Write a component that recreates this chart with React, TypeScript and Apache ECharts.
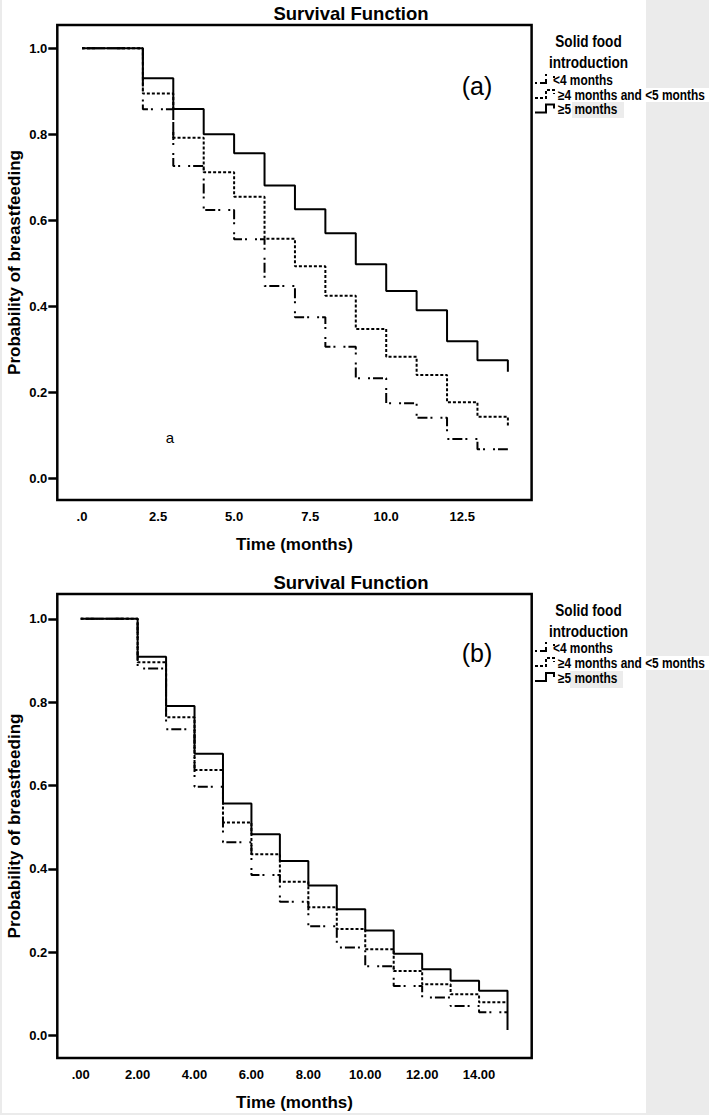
import React, { useEffect, useRef } from "react";
import * as echarts from "echarts";

// ---------- data ----------
const monthsA = [0, 2, 3, 4, 5, 6, 7, 8, 9, 10, 11, 12, 13, 14];
const survA_lt4 = [1, 0.858, 0.726, 0.624, 0.556, 0.4475, 0.375, 0.306, 0.233, 0.175, 0.141, 0.092, 0.068, 0.068];
const survA_4to5 = [1, 0.895, 0.792, 0.712, 0.655, 0.557, 0.493, 0.425, 0.3475, 0.283, 0.2406, 0.177, 0.1437, 0.122];
const survA_ge5 = [1, 0.93, 0.859, 0.8, 0.756, 0.681, 0.626, 0.57, 0.498, 0.436, 0.391, 0.319, 0.275, 0.248];

const monthsB = [0, 2, 3, 4, 5, 6, 7, 8, 9, 10, 11, 12, 13, 14, 15];
const survB_lt4 = [1, 0.881, 0.735, 0.597, 0.464, 0.385, 0.321, 0.262, 0.211, 0.166, 0.119, 0.091, 0.071, 0.056, 0.056];
const survB_4to5 = [1, 0.896, 0.764, 0.637, 0.511, 0.435, 0.369, 0.308, 0.2556, 0.207, 0.155, 0.123, 0.099, 0.08, 0.08];
const survB_ge5 = [1, 0.909, 0.791, 0.676, 0.557, 0.483, 0.419, 0.36, 0.303, 0.252, 0.196, 0.159, 0.1315, 0.1075, 0.013];

const xTicksA = [0, 2.5, 5, 7.5, 10, 12.5];
const xTicksB = [0, 2, 4, 6, 8, 10, 12, 14];
const yTicks = [0, 0.2, 0.4, 0.6, 0.8, 1.0];

const groupNames = ["<4 months", "\u22654 months and <5 months", "\u22655 months"];
const chartTitle = "Survival Function";
const xName = "Time (months)";
const yName = "Probability of breastfeeding";
const legendTitle = ["Solid food", "introduction"];

// ---------- styles ----------
const FONT = "'Liberation Sans', Arial, sans-serif";
const DASHDOT = [2, 3, 10, 3, 2, 8];
const DOTTED = [3, 2];
const styles = [DASHDOT, DOTTED, "solid"];

const toPairs = (xs: number[], ys: number[]) => xs.map((x, i) => [x, ys[i]]);

function makeAxesX(gridIndex: number, min: number, max: number, ticks: number[], fmt: (v: number) => string) {
  return {
    type: "value",
    gridIndex,
    min,
    max,
    axisLine: { show: false, onZero: false },
    axisTick: { show: false },
    splitLine: { show: false },
    axisLabel: {
      customValues: ticks,
      formatter: fmt,
      margin: 10,
      fontSize: 13,
      fontWeight: "bold",
      fontFamily: FONT,
      color: "#000",
    },
    name: xName,
    nameLocation: "middle",
    nameGap: 36,
    nameMoveOverlap: false,
    nameTextStyle: { fontSize: 17, fontWeight: "bold", fontFamily: FONT, color: "#000" },
  };
}

function makeAxesY(gridIndex: number, min: number, max: number) {
  return {
    type: "value",
    gridIndex,
    min,
    max,
    axisLine: { show: false, onZero: false },
    axisTick: { show: true, length: 9, lineStyle: { width: 2.5, color: "#000" }, customValues: yTicks },
    splitLine: { show: false },
    axisLabel: {
      customValues: yTicks,
      formatter: (v: number) => v.toFixed(1),
      margin: 10,
      fontSize: 13,
      fontWeight: "bold",
      fontFamily: FONT,
      color: "#000",
    },
    name: yName,
    nameLocation: "middle",
    nameGap: 34,
    nameMoveOverlap: false,
    nameTextStyle: { fontSize: 17, fontWeight: "bold", fontFamily: FONT, color: "#000" },
  };
}

function lineSeries(idx: number, xs: number[], ys: number[], k: number, name: string) {
  return {
    type: "line",
    name,
    xAxisIndex: idx,
    yAxisIndex: idx,
    step: "end",
    data: toPairs(xs, ys),
    symbol: "none",
    showSymbol: false,
    silent: true,
    z: 2 + k,
    lineStyle: { color: "#000", width: 2, type: styles[k], cap: "butt" },
  };
}

function text(x: number, y: number, str: string, opts: any = {}) {
  const align = opts.align || "left";
  return {
    type: "text",
    x,
    y,
    scaleX: opts.scaleX || 1,
    silent: true,
    style: {
      text: str,
      fill: "#000",
      font: opts.font || `bold 14px ${FONT}`,
      textAlign: align,
      align,
      textVerticalAlign: "middle",
      verticalAlign: "middle",
    },
  };
}

function legendBlock(top: number, rowsY: number[], tagY: number, tag: string) {
  const els: any[] = [];
  els.push(text(351, top - 11.5, chartTitle, { font: `bold 18.5px ${FONT}`, align: "center" }));
  els.push(text(588.5, top + 16.5, legendTitle[0], { font: `bold 16px ${FONT}`, align: "center", scaleX: 0.85 }));
  els.push(text(588.5, top + 38, legendTitle[1], { font: `bold 16px ${FONT}`, align: "center", scaleX: 0.85 }));
  els.push(text(477, tagY, tag, { font: `25px ${FONT}`, align: "center" }));
  rowsY.forEach((y, k) => {
    els.push({
      type: "polyline",
      silent: true,
      shape: { points: [[535, y + 3], [546, y + 3], [546, y - 5], [554, y - 5], [554, y - 1]] },
      style: { stroke: "#000", lineWidth: 2, fill: null, lineDash: styles[k] === "solid" ? null : styles[k] },
    });
    els.push(text(k === 0 ? 553 : 558, y, groupNames[k], { font: `bold 14px ${FONT}`, scaleX: 0.85 }));
  });
  return els;
}

export default function App() {
  const ref = useRef<HTMLDivElement>(null);
  useEffect(() => {
    if (!ref.current) return;
    const chart = echarts.init(ref.current, null, { renderer: "svg" });
    const option: any = {
      animation: false,
      grid: [
        { left: 57.3, top: 25, width: 474.3, height: 475, show: true, borderColor: "#000", borderWidth: 2.5, backgroundColor: "transparent", outerBoundsMode: "none" },
        { left: 57.3, top: 594, width: 474.4, height: 464, show: true, borderColor: "#000", borderWidth: 2.5, backgroundColor: "transparent", outerBoundsMode: "none" },
      ],
      xAxis: [
        makeAxesX(0, -0.813, 14.78, xTicksA, (v: number) => (v === 0 ? ".0" : v.toFixed(1))),
        makeAxesX(1, -0.823, 15.85, xTicksB, (v: number) => (v === 0 ? ".00" : v.toFixed(2))),
      ],
      yAxis: [makeAxesY(0, -0.05, 1.054), makeAxesY(1, -0.054, 1.0595)],
      series: [
        lineSeries(0, monthsA, survA_lt4, 0, groupNames[0]),
        lineSeries(0, monthsA, survA_4to5, 1, groupNames[1]),
        lineSeries(0, monthsA, survA_ge5, 2, groupNames[2]),
        lineSeries(1, monthsB, survB_lt4, 0, groupNames[0]),
        lineSeries(1, monthsB, survB_4to5, 1, groupNames[1]),
        lineSeries(1, monthsB, survB_ge5, 2, groupNames[2]),
      ],
      graphic: [
        ...legendBlock(25, [80, 95, 109.5], 86, "(a)"),
        ...legendBlock(594, [648, 663, 678], 653, "(b)"),
        text(170, 437, "a", { font: `15px ${FONT}`, align: "center" }),
      ],
    };
    chart.setOption(option);
    return () => chart.dispose();
  }, []);

  return (
    <div style={{ position: "fixed", left: 0, top: 0, width: 709, height: 1115, background: "#ebebeb", overflow: "hidden" }}>
      <div style={{ position: "absolute", left: 2, top: 0, width: 644, height: 1113, background: "#fff" }} />
      <div style={{ position: "absolute", left: 646, top: 88, width: 63, height: 14, background: "#fff" }} />
      <div style={{ position: "absolute", left: 646, top: 656, width: 63, height: 14, background: "#fff" }} />
      <div style={{ position: "absolute", left: 572, top: 102, width: 52, height: 16, background: "#ececec" }} />
      <div style={{ position: "absolute", left: 570, top: 671, width: 53, height: 17, background: "#ececec" }} />
      <div ref={ref} style={{ position: "absolute", left: 0, top: 0, width: 709, height: 1115 }} />
    </div>
  );
}
